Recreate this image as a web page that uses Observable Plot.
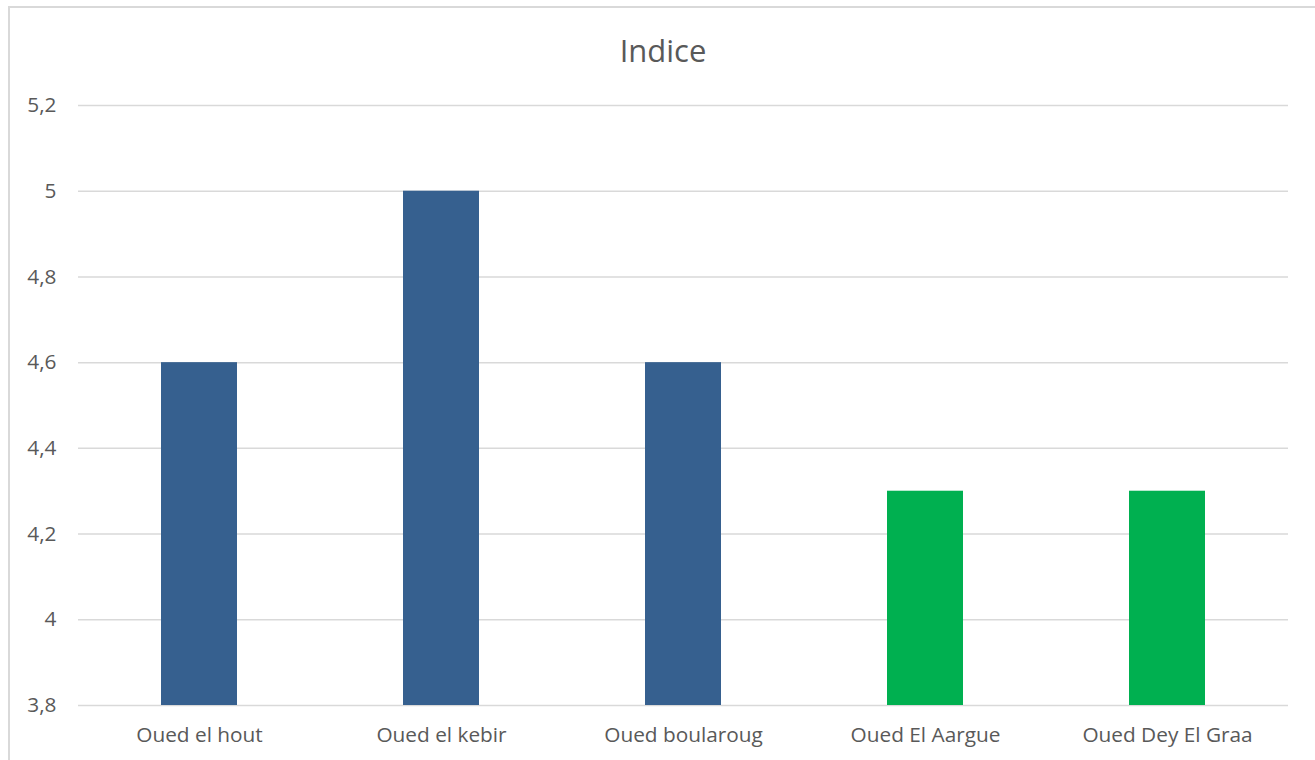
<!DOCTYPE html>
<html>
<head>
<meta charset="utf-8">
<script src="https://cdn.jsdelivr.net/npm/d3@7"></script>
<script src="https://cdn.jsdelivr.net/npm/@observablehq/plot@0.6"></script>
<style>
  html, body { margin: 0; padding: 0; background: #fff; overflow: hidden; }
  #frame { position: absolute; left: 8px; top: 6px; width: 1320px; height: 780px; border: 2px solid #d9d9d9; box-sizing: border-box; }
  #title { position: absolute; left: 0; top: 0; width: 1326px; height: 80px; text-align: center; font-family: "Open Sans", sans-serif; font-size: 31px; color: #595959; line-height: 100px; }
  #chart { position: absolute; left: 0; top: 80px; }
</style>
</head>
<body>
<div id="frame"></div>
<div id="title">Indice</div>
<div id="chart"></div>
<script>
const categories = ["Oued el hout", "Oued el kebir", "Oued boularoug", "Oued El Aargue", "Oued Dey El Graa"];
const values = [4.6, 5.0, 4.6, 4.3, 4.3];
const groups = ["g1", "g1", "g1", "g2", "g2"];
const yTicks = [3.8, 4.0, 4.2, 4.4, 4.6, 4.8, 5.0, 5.2];

const data = categories.map((c, i) => ({ category: c, value: values[i], group: groups[i] }));
const fmt = d => String(+d.toFixed(1)).replace(".", ",");

const chart = Plot.plot({
  width: 1315,
  height: 680,
  marginLeft: 78,
  marginRight: 27,
  marginTop: 25,
  marginBottom: 55,
  style: { fontFamily: "Open Sans, sans-serif", fontSize: "20.8px", color: "#595959", background: "transparent" },
  x: { domain: categories, paddingInner: 0.686, paddingOuter: 0.343, label: null },
  y: { domain: [3.8, 5.2], label: null },
  color: { domain: ["g1", "g2"], range: ["#36608f", "#00b050"] },
  marks: [
    Plot.gridY(yTicks, { stroke: "#d9d9d9", strokeOpacity: 1, strokeWidth: 1.5 }),
    Plot.barY(data, { x: "category", y1: 3.8, y2: "value", fill: "group" }),
    Plot.axisY(yTicks, { tickSize: 0, tickPadding: 22, tickFormat: fmt, fontSize: 20.8, fill: "#595959" }),
    Plot.axisX({ tickSize: 0, tickPadding: 22, fontSize: 20.8, fill: "#595959" })
  ]
});
document.getElementById("chart").appendChild(chart);
</script>
</body>
</html>
